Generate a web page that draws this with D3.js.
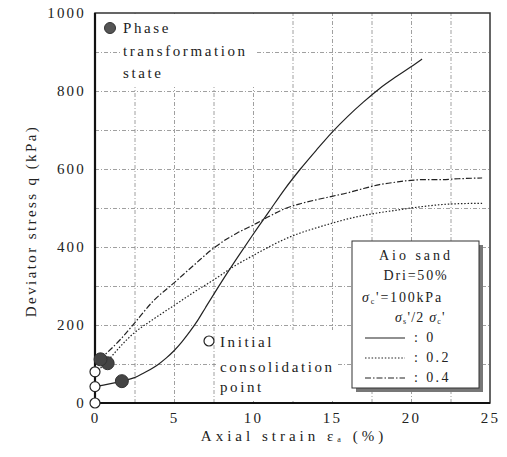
<!DOCTYPE html>
<html>
<head>
<meta charset="utf-8">
<script src="https://cdn.jsdelivr.net/npm/d3@7/dist/d3.min.js"></script>
<style>
  body { margin: 0; background: #fff; }
  text { font-family: "Liberation Serif", "Times New Roman", serif; fill: #222; }
  .grid line { stroke: #888; stroke-width: 0.8; stroke-dasharray: 4,2,1,2; }
  .grid path { display: none; }
</style>
</head>
<body>
<svg width="507" height="457"></svg>
<script>
// strain (%) and deviator stress (kPa)
const strain0 = [0, 1.7, 2.5, 3, 3.5, 4, 4.5, 5, 5.5, 6, 6.5, 7, 8, 9, 10, 11, 12, 13, 14, 15, 16, 17, 18, 19, 20, 20.7];
const q0      = [42, 56, 65, 75, 86, 99, 115, 134, 157, 183, 212, 245, 310, 372, 432, 490, 548, 600, 648, 694, 735, 772, 806, 835, 862, 882];
const strain02 = [0.7, 2.4, 3.7, 5.0, 6.3, 7.6, 8.7, 10.0, 11.0, 12.0, 13.0, 14.0, 15.0, 16.0, 17.0, 18.0, 19.0, 20.0, 21.0, 22.0, 23.0, 24.5];
const q02      = [103, 177, 215, 250, 285, 318, 348, 378, 400, 420, 436, 449, 461, 472, 481, 488, 494, 500, 505, 509, 511, 512];
const strain04 = [0.3, 1.7, 2.5, 3.7, 5.0, 6.3, 7.6, 9.0, 10.0, 11.0, 12.0, 13.0, 14.0, 15.0, 16.0, 17.0, 18.0, 19.0, 20.0, 21.0, 22.0, 23.0, 24.5];
const q04      = [112, 167, 205, 262, 308, 355, 400, 436, 456, 478, 498, 511, 521, 530, 539, 550, 560, 566, 571, 573, 573, 575, 577];
// phase transformation (filled) and initial consolidation (open) points
const phaseStrain = [1.7, 0.8, 0.35];
const phaseQ = [56, 102, 112];
const initStrain = [0, 0, 0];
const initQ = [0, 42, 80];
const xTicks = [0, 5, 10, 15, 20, 25];
const yTicks = [0, 200, 400, 600, 800, 1000];
const legendRatio = ["0", "0.2", "0.4"];

const svg = d3.select('svg');
const L = 95, T = 13, W = 395, H = 390;
const x = d3.scaleLinear().domain([0, 25]).range([L, L + W]);
const y = d3.scaleLinear().domain([0, 1000]).range([T + H, T]);

// grid
svg.append('g').attr('class', 'grid')
  .attr('transform', `translate(0,${T + H})`)
  .call(d3.axisBottom(x).tickValues(d3.range(2.5, 25, 2.5)).tickSize(-H).tickFormat(''));
svg.append('g').attr('class', 'grid')
  .attr('transform', `translate(${L},0)`)
  .call(d3.axisLeft(y).tickValues(d3.range(100, 1000, 100)).tickSize(-W).tickFormat(''));

// white boxes behind annotations
svg.append('rect').attr('x', 121).attr('y', T + 1).attr('width', 135).attr('height', 73).attr('fill', '#fff');
svg.append('rect').attr('x', 216).attr('y', 330).attr('width', 120).attr('height', 71).attr('fill', '#fff');

// frame
svg.append('rect').attr('x', L).attr('y', T).attr('width', W).attr('height', H)
  .attr('fill', 'none').attr('stroke', '#333').attr('stroke-width', 1.5);
svg.append('line').attr('x1', L).attr('x2', L).attr('y1', T).attr('y2', T + H).attr('stroke', '#111').attr('stroke-width', 2.2);
svg.append('line').attr('x1', L).attr('x2', L + W).attr('y1', T + H).attr('y2', T + H).attr('stroke', '#111').attr('stroke-width', 2.2);

// tick labels
const serif = '"Liberation Serif", "Times New Roman", serif';
svg.append('g').attr('transform', `translate(${L},0)`)
  .call(d3.axisLeft(y).tickValues(yTicks).tickSize(0).tickPadding(9).tickFormat(d3.format('d')))
  .call(g => g.select('.domain').remove())
  .call(g => g.selectAll('text').attr('font-size', 15).attr('letter-spacing', 2.2)
    .attr('font-family', serif).attr('fill', '#222'));
svg.append('g').attr('transform', `translate(0,${T + H})`)
  .call(d3.axisBottom(x).tickValues(xTicks).tickSize(0).tickPadding(9))
  .call(g => g.select('.domain').remove())
  .call(g => g.selectAll('text').attr('font-size', 15).attr('letter-spacing', 2.2)
    .attr('font-family', serif).attr('fill', '#222'));

// axis titles
const xt = svg.append('text').attr('x', 294).attr('y', 441).attr('text-anchor', 'middle')
  .attr('font-size', 15).attr('letter-spacing', 4);
xt.append('tspan').text('Axial strain  ');
xt.append('tspan').text('ε');
xt.append('tspan').attr('font-size', 8).attr('dy', 1).text('a');
xt.append('tspan').attr('dy', -1).text(' (%)');
svg.append('text').attr('transform', 'translate(36,221) rotate(-90)').attr('text-anchor', 'middle')
  .attr('font-size', 15).attr('letter-spacing', 2.4).text('Deviator stress  q (kPa)');

// curves
const line = d3.line().x(d => x(d[0])).y(d => y(d[1])).curve(d3.curveMonotoneX);
const series = [
  { xs: strain0, ys: q0, dash: null },
  { xs: strain02, ys: q02, dash: '1.5,1.8' },
  { xs: strain04, ys: q04, dash: '6,2,1.5,2' }
];
series.forEach(s => {
  svg.append('path').datum(s.xs.map((v, i) => [v, s.ys[i]]))
    .attr('d', line).attr('fill', 'none').attr('stroke', '#222').attr('stroke-width', 1.2)
    .attr('stroke-dasharray', s.dash);
});
// start segment from initial point for 0.2
svg.append('path').datum([[0, 80], [0.8, 102]]).attr('d', d3.line().x(d => x(d[0])).y(d => y(d[1])))
  .attr('stroke', '#222').attr('stroke-width', 1.2).attr('stroke-dasharray', '1.5,1.8');

// markers
svg.selectAll('circle.open').data(initStrain).enter().append('circle')
  .attr('cx', d => x(d)).attr('cy', (d, i) => y(initQ[i])).attr('r', 5)
  .attr('fill', '#fff').attr('stroke', '#222').attr('stroke-width', 1.2);
svg.selectAll('circle.phase').data(phaseStrain).enter().append('circle')
  .attr('cx', d => x(d)).attr('cy', (d, i) => y(phaseQ[i])).attr('r', 6.5)
  .attr('fill', '#444').attr('stroke', '#333');

// annotation: phase transformation state
svg.append('circle').attr('cx', 110).attr('cy', 28).attr('r', 5.5).attr('fill', '#555').attr('stroke', '#333');
[['Phase', 33], ['transformation', 56], ['state', 78]].forEach(([t, yy]) => {
  svg.append('text').attr('x', 123).attr('y', yy).attr('font-size', 15).attr('letter-spacing', 2.6).text(t);
});
// annotation: initial consolidation point
svg.append('circle').attr('cx', 209).attr('cy', 341).attr('r', 5).attr('fill', '#fff').attr('stroke', '#222').attr('stroke-width', 1.2);
[['Initial', 347], ['consolidation', 372], ['point', 392]].forEach(([t, yy]) => {
  svg.append('text').attr('x', 220).attr('y', yy).attr('font-size', 15).attr('letter-spacing', 2.6).text(t);
});

// legend box
const lg = svg.append('g');
lg.append('rect').attr('x', 356).attr('y', 245).attr('width', 127).attr('height', 147).attr('fill', '#777');
lg.append('rect').attr('x', 352).attr('y', 241).attr('width', 127).attr('height', 147)
  .attr('fill', '#fff').attr('stroke', '#333').attr('stroke-width', 1);
lg.append('text').attr('x', 416).attr('y', 260).attr('text-anchor', 'middle').attr('font-size', 14).attr('letter-spacing', 3).text('Aio sand');
lg.append('text').attr('x', 416).attr('y', 280).attr('text-anchor', 'middle').attr('font-size', 14).attr('letter-spacing', 1.8).text('Dri=50%');
const s1 = lg.append('text').attr('x', 362).attr('y', 302).attr('font-size', 14).attr('letter-spacing', 1.8);
s1.append('tspan').attr('font-style', 'italic').text('σ');
s1.append('tspan').attr('font-size', 8).attr('dy', 2).text('c');
s1.append('tspan').attr('dy', -2).text("'=100kPa");
const s2 = lg.append('text').attr('x', 395).attr('y', 322).attr('font-size', 14).attr('letter-spacing', 1.2);
s2.append('tspan').attr('font-style', 'italic').text('σ');
s2.append('tspan').attr('font-size', 8).attr('dy', 2).text('s');
s2.append('tspan').attr('dy', -2).text("'/2 ");
s2.append('tspan').attr('font-style', 'italic').text('σ');
s2.append('tspan').attr('font-size', 8).attr('dy', 2).text('c');
s2.append('tspan').attr('dy', -2).text("'");
series.forEach((s, i) => {
  const yy = 338 + i * 20;
  lg.append('line').attr('x1', 365).attr('x2', 405).attr('y1', yy).attr('y2', yy)
    .attr('stroke', '#222').attr('stroke-width', 1.1).attr('stroke-dasharray', s.dash);
  lg.append('text').attr('x', 414).attr('y', yy + 4).attr('font-size', 14).attr('letter-spacing', 2.4)
    .text(': ' + legendRatio[i]);
});
</script>
</body>
</html>
